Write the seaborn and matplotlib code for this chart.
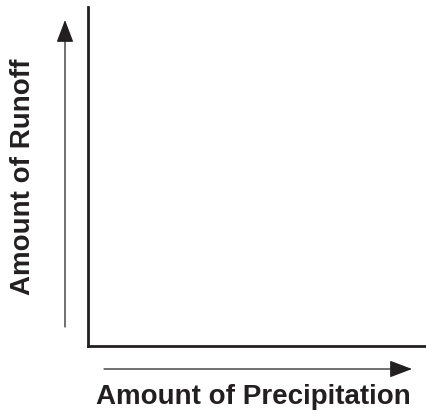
import matplotlib
matplotlib.use("Agg")
import matplotlib.pyplot as plt
import seaborn as sns
import pandas as pd

x_label = "Amount of Precipitation"
y_label = "Amount of Runoff"
precip = []
runoff = []

sns.set_style("white")
plt.rcParams['font.family'] = ['Liberation Sans', 'DejaVu Sans']

fig = plt.figure(figsize=(4.27, 4.19), dpi=100)
ax = fig.add_axes([88/427, 1-346/419, 1-86/427, (346-7)/419])
df = pd.DataFrame({"precip": precip, "runoff": runoff}, dtype=float)
sns.lineplot(data=df, x="precip", y="runoff", ax=ax)
ax.set_xlim(0, 1)
ax.set_ylim(0, 1)
ax.set_xticks([])
ax.set_yticks([])
ax.set_xlabel("")
ax.set_ylabel("")
sns.despine(ax=ax)
for s in ("left", "bottom"):
    ax.spines[s].set_color("#231f20")
    ax.spines[s].set_linewidth(2.0)

arrow_style = dict(arrowstyle="-|>,head_length=1.0,head_width=0.38", color="#231f20",
                   lw=0.9, mutation_scale=14, shrinkA=0, shrinkB=0)
ax.annotate("", xy=(65/427, 1-20/419), xytext=(65/427, 1-327/419),
            xycoords="figure fraction", textcoords="figure fraction",
            arrowprops=arrow_style, annotation_clip=False)
ax.annotate("", xy=(412/427, 1-369/419), xytext=(104/427, 1-369/419),
            xycoords="figure fraction", textcoords="figure fraction",
            arrowprops=arrow_style, annotation_clip=False)

fig.text(253/427, 1-397/419, x_label, ha="center", va="center",
         fontsize=20, fontweight="bold", color="#231f20")
fig.text(23/427, 1-177/419, y_label, ha="center", va="center", rotation=90,
         fontsize=20, fontweight="bold", color="#231f20")

fig.savefig("out.png", dpi=100)
